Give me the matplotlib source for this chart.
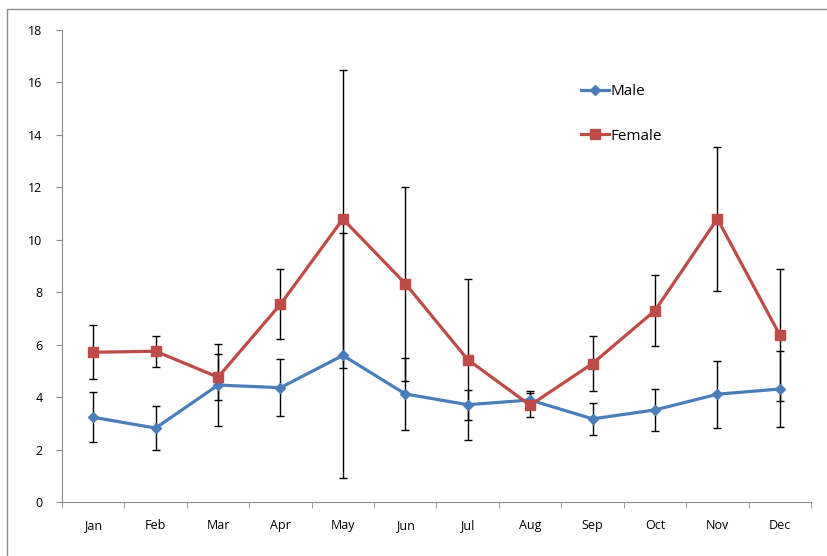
import matplotlib.pyplot as plt
from matplotlib.patches import Rectangle
import numpy as np

months = ['Jan', 'Feb', 'Mar', 'Apr', 'May', 'Jun', 'Jul', 'Aug', 'Sep', 'Oct', 'Nov', 'Dec']
male = [3.23, 2.82, 4.46, 4.36, 5.59, 4.12, 3.71, 3.89, 3.17, 3.51, 4.11, 4.31]
male_err = [0.95, 0.85, 1.56, 1.08, 4.68, 1.38, 0.58, 0.36, 0.62, 0.79, 1.28, 1.46]
female = [5.71, 5.75, 4.76, 7.54, 10.79, 8.33, 5.43, 3.69, 5.28, 7.30, 10.80, 6.37]
female_err = [1.03, 0.59, 0.88, 1.33, 5.67, 3.70, 3.07, 0.46, 1.06, 1.35, 2.75, 2.50]

plt.rcParams['font.family'] = ['Open Sans', 'DejaVu Sans']

fig = plt.figure(figsize=(8.28, 5.56), dpi=100)
# chart area border (runs off the right and bottom edges)
fig.patches.append(Rectangle((7 / 828, -10 / 556), 840 / 828, 557 / 556, transform=fig.transFigure,
                             fill=False, edgecolor='#8c8c8c', linewidth=1))

ax = fig.add_axes([62 / 828, 54 / 556, 749 / 828, 472 / 556])
x = np.arange(len(months))

ax.errorbar(x, male, yerr=male_err, fmt='none', ecolor='black', elinewidth=1, capsize=3, capthick=1, zorder=2)
ax.errorbar(x, female, yerr=female_err, fmt='none', ecolor='black', elinewidth=1, capsize=3, capthick=1, zorder=2)
ax.plot(x, male, color='#4A7EBB', lw=2.3, marker='D', ms=5.5, label='Male', zorder=3)
ax.plot(x, female, color='#BE4B48', lw=2.3, marker='s', ms=7, label='Female', zorder=3)

ax.set_xlim(-0.5, 11.5)
ax.set_ylim(0, 18)
ax.set_yticks(range(0, 19, 2))
ax.set_xticks(x)
ax.set_xticklabels(months)
ax.set_xticks(np.arange(-0.5, 12, 1), minor=True)
ax.tick_params(axis='x', which='major', length=0, pad=12, labelsize=9)
ax.tick_params(axis='x', which='minor', length=4, direction='out', color='#8c8c8c')
ax.tick_params(axis='y', length=4, direction='out', color='#8c8c8c', labelsize=9, pad=10)

for s in ['top', 'right']:
    ax.spines[s].set_visible(False)
for s in ['left', 'bottom']:
    ax.spines[s].set_color('#8c8c8c')

ax.legend(loc='upper left', bbox_to_anchor=(0.675, 0.915), frameon=False, fontsize=11,
          handlelength=1.8, handletextpad=0.1, labelspacing=1.95)

fig.savefig('out.png', dpi=100)
